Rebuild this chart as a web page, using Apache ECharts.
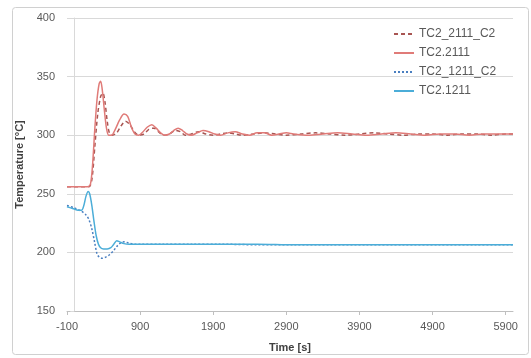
<!DOCTYPE html>
<html>
<head>
<meta charset="utf-8">
<script src="https://cdn.jsdelivr.net/npm/echarts@6/dist/echarts.min.js"></script>
<style>
  html, body { margin: 0; padding: 0; background: #fff; }
  #chart { width: 531px; height: 358px; }
</style>
</head>
<body>
<div id="chart"></div>
<script>
// Thermocouple temperatures over time: measured (TC2.xxxx) and calculated (_C2)
var seriesNames = ['TC2_2111_C2', 'TC2.2111', 'TC2_1211_C2', 'TC2.1211'];
var xTickLabels = [-100, 900, 1900, 2900, 3900, 4900, 5900];

// [time s, temperature °C]
var tc2111C2 = [
  [-100,256],[0,256],[100,256],[200,256],[240,262],[280,290],[320,318],[360,333],[390,336],
  [420,328],[450,312],[480,302],[520,300],[580,302],[640,308],[700,312],[760,309],[820,303],
  [880,300],[950,301],[1020,305],[1090,306],[1150,303],[1220,300],[1300,301],[1380,304],
  [1450,303],[1520,300],[1600,301],[1700,303],[1800,301],[1900,300],[2000,301],[2100,302],
  [2200,301],[2300,300],[2450,301],[2600,302],[2750,301],[2900,300],[3100,301],[3300,302],
  [3500,301],[3700,300],[3900,301],[4100,302],[4300,301],[4500,300],[4700,301],[4900,301],
  [5100,300],[5300,301],[5500,301],[5700,300],[5900,301],[6000,301]
];
var tc2111 = [
  [-100,256],[0,256],[100,256],[180,256],[220,258],[250,275],[280,305],[310,330],[340,344],
  [360,346],[380,340],[410,322],[440,306],[470,300],[510,300],[560,305],[620,313],[680,318],
  [730,316],[780,307],[830,301],[880,300],[940,303],[1000,307],[1060,309],[1120,306],
  [1180,302],[1240,300],[1300,301],[1360,304],[1420,306],[1480,304],[1540,301],[1600,300],
  [1680,302],[1760,304],[1840,303],[1920,301],[2000,300],[2100,302],[2200,303],[2300,301],
  [2400,300],[2500,302],[2600,302],[2700,300],[2800,301],[2900,302],[3000,301],[3200,300],
  [3400,301],[3600,302],[3800,301],[4000,300],[4200,301],[4400,302],[4600,301],[4800,300],
  [5000,301],[5200,301],[5400,300],[5600,301],[5800,301],[6000,301]
];
var tc1211C2 = [
  [-100,240],[0,238],[100,235],[160,232],[200,228],[240,220],[280,208],[310,199],[340,196],
  [380,195],[430,196],[480,198],[530,201],[580,205],[630,208],[680,209],[740,208],[820,207],
  [900,207],[1200,207],[1600,207],[2000,207],[2500,206.5],[3000,206.5],[3500,206.5],
  [4000,206.5],[4500,206.5],[5000,206.5],[5500,206.5],[6000,206.5]
];
var tc1211 = [
  [-100,239],[-50,238],[0,237],[50,236],[100,236],[130,240],[160,248],[190,252],[210,250],
  [240,240],[270,226],[300,214],[330,207],[360,204],[400,203],[450,203],[500,204],[540,207],
  [580,210],[620,209],[680,207.5],[750,207],[900,207],[1200,207],[1600,207],[2000,207],
  [2500,207],[3000,206.5],[3500,206.5],[4000,206.5],[4500,206.5],[5000,206.5],[5500,206.5],
  [6000,206.5]
];

var textColor = '#595959';
var gridColor = '#d9d9d9';
var fontFamily = 'Liberation Sans, Arial, sans-serif';

function lineSeries(name, data, color, type, width) {
  return {
    name: name,
    type: 'line',
    data: data,
    showSymbol: false,
    symbol: 'none',
    smooth: 0.3,
    lineStyle: { color: color, width: width, type: type },
    itemStyle: { color: color },
    emphasis: { disabled: true }
  };
}

var chart = echarts.init(document.getElementById('chart'), null, { renderer: 'canvas' });
chart.setOption({
  animation: false,
  backgroundColor: '#ffffff',
  textStyle: { fontFamily: fontFamily },
  graphic: [{
    type: 'rect',
    shape: { x: 12.5, y: 7.5, width: 516, height: 347, r: 3 },
    style: { fill: 'none', stroke: '#d0d0d0', lineWidth: 1 },
    silent: true,
    z: -10
  }],
  grid: { left: 67, right: 18, top: 18, bottom: 45 },
  legend: {
    orient: 'vertical',
    left: 388,
    top: 23,
    itemWidth: 20,
    itemHeight: 12,
    itemGap: 7,
    itemStyle: { opacity: 0 },
    textStyle: { color: textColor, fontSize: 12, fontFamily: fontFamily },
    data: seriesNames
  },
  xAxis: {
    type: 'value',
    min: -100,
    max: 6000,
    name: 'Time [s]',
    nameLocation: 'middle',
    nameGap: 31,
    nameTextStyle: { color: '#404040', fontSize: 11, fontWeight: 'bold' },
    axisLine: { show: true, lineStyle: { color: '#bfbfbf', width: 1 } },
    axisTick: { show: true, customValues: xTickLabels, length: 4, lineStyle: { color: '#bfbfbf' } },
    axisLabel: {
      customValues: xTickLabels,
      color: textColor,
      fontSize: 11,
      margin: 10,
      formatter: function (v) { return String(v); }
    },
    splitLine: { show: false }
  },
  yAxis: {
    type: 'value',
    min: 150,
    max: 400,
    interval: 50,
    name: 'Temperature [°C]',
    nameLocation: 'middle',
    nameGap: 42,
    nameTextStyle: { color: '#404040', fontSize: 11, fontWeight: 'bold' },
    axisLine: { show: true, lineStyle: { color: gridColor, width: 1 } },
    axisTick: { show: true, length: 4, lineStyle: { color: gridColor } },
    axisLabel: { color: textColor, fontSize: 11, margin: 12 },
    splitLine: { show: true, lineStyle: { color: gridColor, width: 1 } }
  },
  series: [
    lineSeries(seriesNames[0], tc2111C2, '#a85552', [4, 3], 1.5),
    lineSeries(seriesNames[1], tc2111, '#e07b78', 'solid', 1.5),
    lineSeries(seriesNames[2], tc1211C2, '#4a7fc0', [2, 2], 1.5),
    lineSeries(seriesNames[3], tc1211, '#4badd8', 'solid', 1.5)
  ]
});
</script>
</body>
</html>
